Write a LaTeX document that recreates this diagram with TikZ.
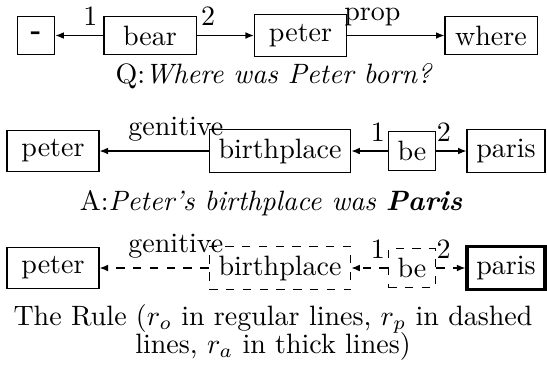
\documentclass[tikz,border=0pt]{standalone}
\usetikzlibrary{arrows.meta}
\begin{document}
\begin{tikzpicture}[x=0.3572pt,y=-0.3572pt,
  box/.style={draw,font=\normalsize},
  wbox/.style={box,minimum width=32.9pt},
  dbox/.style={box,dashed},
  abox/.style={box,very thick},
  arr/.style={-{Latex[length=3pt,width=2.4pt]}},
  darr/.style={arr,dashed},
  lab/.style={font=\normalsize,above},
  capt/.style={font=\normalsize,anchor=base}]
\useasboundingbox (0,0) rectangle (547,365);
% row 1
\node[box,minimum width=13.5pt,minimum height=13.6pt] (dash) at (36,35.5) {\textbf{-}};
\node[wbox] (bear) at (150,35.5) {bear};
\node[wbox] (peter1) at (300.5,35.5) {peter};
\node[wbox] (where) at (491,35.5) {where};
\draw[arr] (bear) -- node[lab,pos=0.27]{1} (dash);
\draw[arr] (bear) -- node[lab,pos=0.2]{2} (peter1);
\draw[arr] (peter1) -- node[lab,pos=0.26]{prop} (where);
\node[capt] (q) at (274,83) {Q:\textit{Where was Peter born?}};
% row 2
\node[wbox] (peter2) at (53,151) {peter};
\node[box] (birth2) at (280,151) {birthplace};
\node[box] (be2) at (412,151) {be};
\node[box] (paris2) at (506,151) {paris};
\draw[arr] (birth2) -- node[lab,pos=0.3]{genitive} (peter2);
\draw[arr] (be2) -- node[lab,pos=0.27]{1} (birth2);
\draw[arr] (be2) -- node[lab,pos=0.25]{2} (paris2);
\node[capt] (a) at (271,210) {A:\textit{Peter's birthplace was \textbf{Paris}}};
% row 3
\node[wbox] (peter3) at (53,268) {peter};
\node[dbox] (birth3) at (280,268) {birthplace};
\node[dbox] (be3) at (412,268) {be};
\node[abox] (paris3) at (506,268) {paris};
\draw[darr] (birth3) -- node[lab,pos=0.3]{genitive} (peter3);
\draw[darr] (be3) -- node[lab,pos=0.27]{1} (birth3);
\draw[darr] (be3) -- node[lab,pos=0.25]{2} (paris3);
\node[capt,text width=215pt,align=center,font={\fontsize{10pt}{10.2pt}\selectfont\lineskiplimit=-20pt}] (r) at (273,325) {The Rule ($r_o$ in regular lines, $r_p$ in dashed\\ lines, $r_a$ in thick lines)};
\end{tikzpicture}
\end{document}
